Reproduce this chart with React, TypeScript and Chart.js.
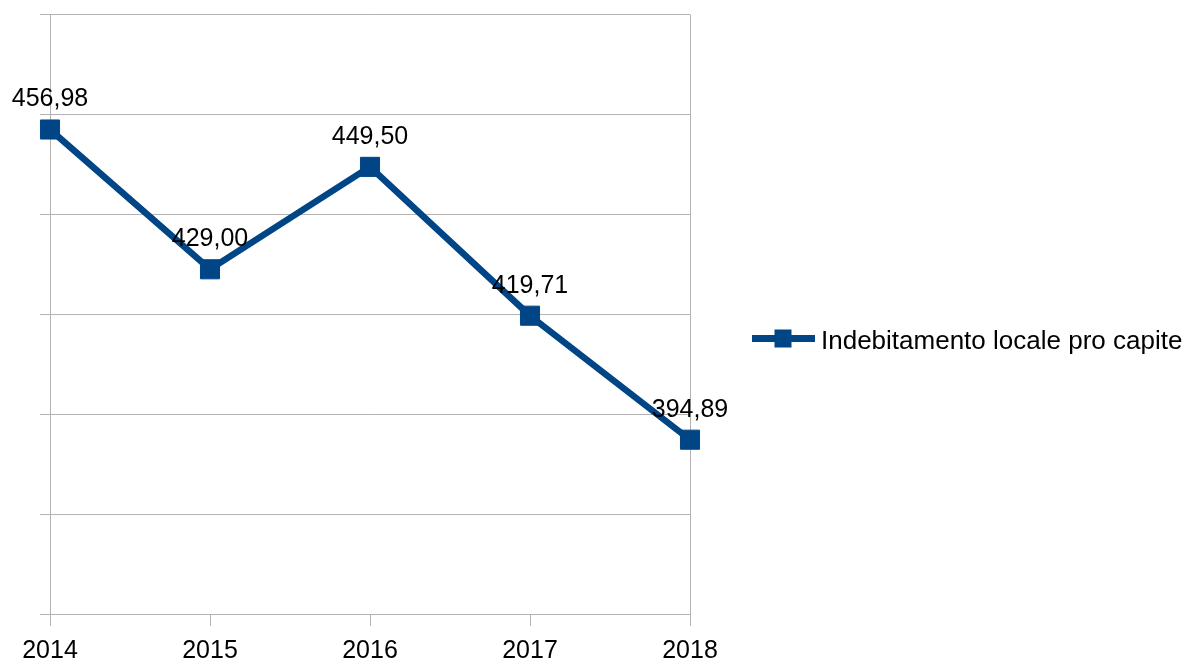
import React, { useEffect, useRef } from "react";
import { Chart, registerables } from "chart.js";

Chart.register(...registerables);

const categories = ["2014", "2015", "2016", "2017", "2018"];
const values = [456.98, 429.0, 449.5, 419.71, 394.89];
const seriesName = "Indebitamento locale pro capite";
const yMin = 360;
const yMax = 480;
const yStep = 20;

const COLOR = "#004586";
const GRID = "#b3b3b3";
const FONT = "'Liberation Sans', Arial, sans-serif";
const FS = 25;

const fmt = (v: number) => v.toFixed(2).replace(".", ",");

const labelsPlugin = {
  id: "valueLabels",
  afterDatasetsDraw(chart: any) {
    const ctx = chart.ctx;
    const meta = chart.getDatasetMeta(0);
    ctx.save();
    ctx.font = `${FS}px ${FONT}`;
    ctx.fillStyle = "#000";
    ctx.textAlign = "center";
    ctx.textBaseline = "middle";
    meta.data.forEach((pt: any, i: number) => {
      ctx.fillText(fmt(values[i]), pt.x, pt.y - 30);
    });
    ctx.restore();
  },
};

const legendPlugin = {
  id: "customLegend",
  afterDraw(chart: any) {
    const ctx = chart.ctx;
    const y = 338.5;
    ctx.save();
    ctx.strokeStyle = COLOR;
    ctx.lineWidth = 7;
    ctx.beginPath();
    ctx.moveTo(752, y);
    ctx.lineTo(815, y);
    ctx.stroke();
    ctx.fillStyle = COLOR;
    ctx.fillRect(774.5, y - 9, 17, 18);
    ctx.font = `26px ${FONT}`;
    ctx.fillStyle = "#000";
    ctx.textAlign = "left";
    ctx.textBaseline = "middle";
    ctx.fillText(seriesName, 821, 341.5);
    ctx.restore();
  },
};

export default function App() {
  const ref = useRef<HTMLCanvasElement>(null);
  useEffect(() => {
    if (!ref.current) return;
    const last = categories.length - 1;
    const chart = new Chart(ref.current, {
      type: "line",
      data: {
        labels: categories,
        datasets: [
          {
            label: seriesName,
            data: values,
            borderColor: COLOR,
            backgroundColor: COLOR,
            borderWidth: 6.5,
            pointStyle: "rect",
            pointRadius: 13.5,
            pointBorderWidth: 1,
            pointBackgroundColor: COLOR,
            pointBorderColor: COLOR,
            tension: 0,
          },
        ],
      },
      options: {
        animation: false,
        responsive: false,
        events: [],
        layout: { padding: { left: 40, right: 494, top: 13, bottom: 0 } },
        plugins: { legend: { display: false }, tooltip: { enabled: false } },
        scales: {
          x: {
            offset: false,
            grid: {
              color: (c: any) => (c.index === 0 || c.index === last ? GRID : "rgba(0,0,0,0)"),
              tickColor: GRID,
              lineWidth: 1,
              tickLength: 12,
              drawTicks: true,
            },
            border: { color: GRID },
            ticks: {
              color: "#000",
              font: { family: FONT, size: FS },
              padding: 10,
              maxRotation: 0,
            },
            afterFit: (s: any) => {
              s.height = 51;
            },
          },
          y: {
            min: yMin,
            max: yMax,
            grid: { color: GRID, lineWidth: 1, tickLength: 10, drawTicks: true },
            border: { color: GRID },
            ticks: { display: false, stepSize: yStep },
            afterFit: (s: any) => {
              s.width = 10;
            },
          },
        },
      },
      plugins: [labelsPlugin, legendPlugin],
    });
    return () => chart.destroy();
  }, []);
  return (
    <div style={{ position: "fixed", left: 0, top: 0, width: 1184, height: 665, background: "#fff" }}>
      <canvas ref={ref} width={1184} height={665} />
    </div>
  );
}
